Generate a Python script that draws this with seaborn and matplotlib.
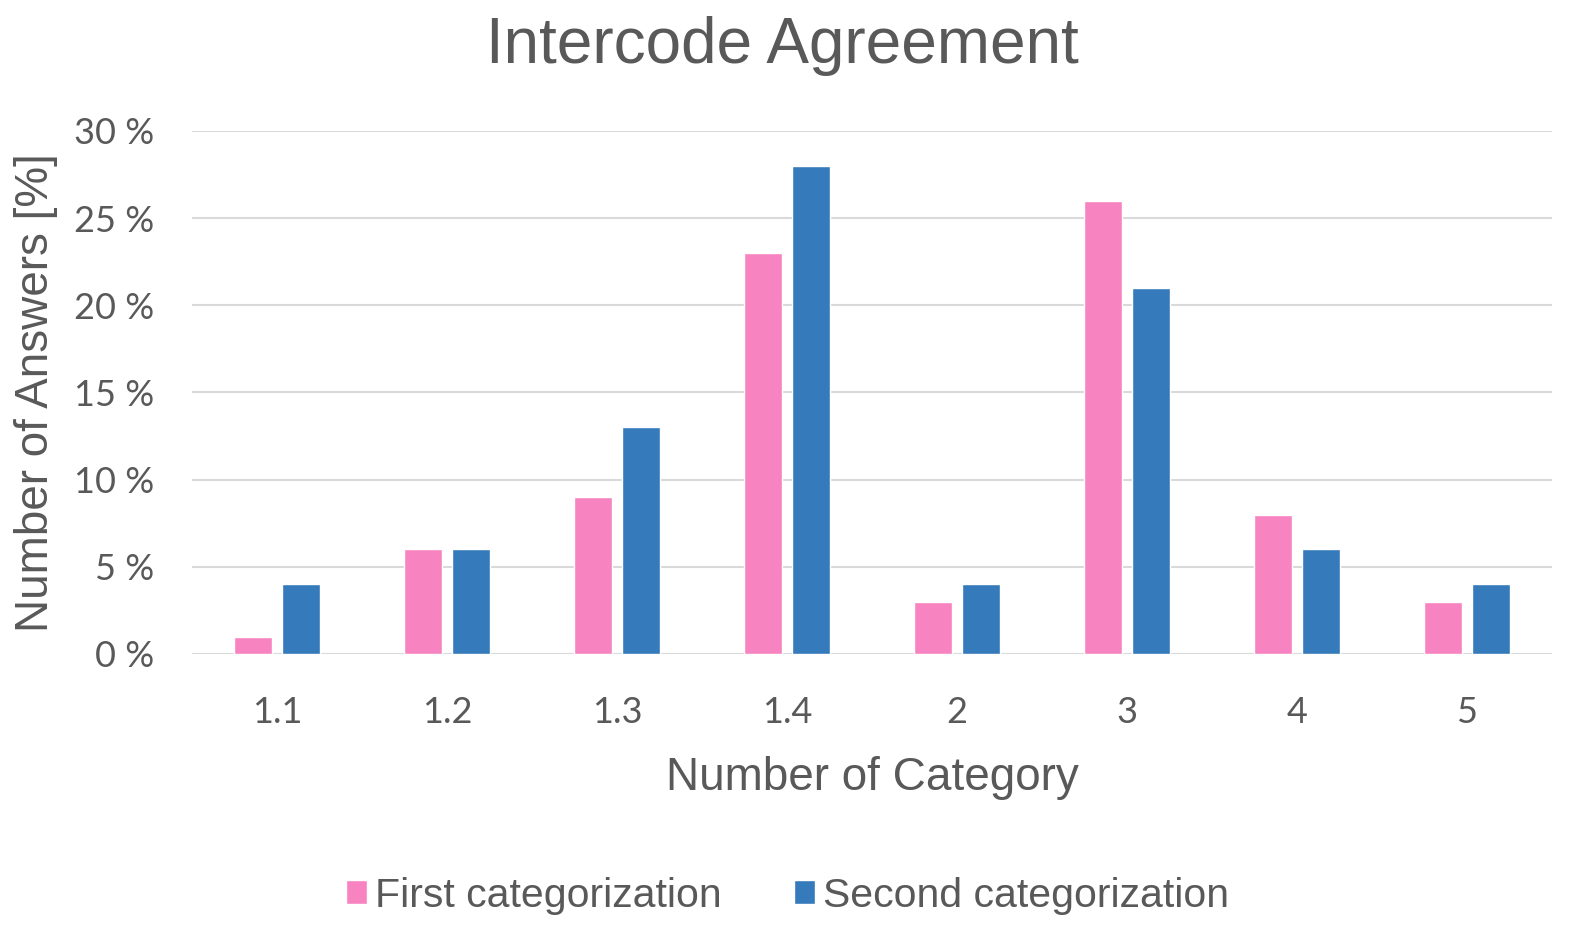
import matplotlib.pyplot as plt
import seaborn as sns
import pandas as pd
from matplotlib.ticker import FuncFormatter

categories = ["1.1", "1.2", "1.3", "1.4", "2", "3", "4", "5"]
first_cat = [1, 6, 9, 23, 3, 26, 8, 3]
second_cat = [4, 6, 13, 28, 4, 21, 6, 4]
series_names = ["First categorization", "Second categorization"]

df = pd.DataFrame({
    "category": categories * 2,
    "value": first_cat + second_cat,
    "series": [series_names[0]] * len(categories) + [series_names[1]] * len(categories),
})

sns.set_style("white")
plt.rcParams['font.family'] = ['Liberation Sans', 'DejaVu Sans']
grey = "#595959"

fig = plt.figure(figsize=(15.75, 9.3), dpi=100)
ax = fig.add_axes([0.1219, 0.2968, 0.8635, 0.5624])

sns.barplot(data=df, x="category", y="value", hue="series", order=categories,
            hue_order=series_names, palette=["#F783C0", "#357ABA"],
            saturation=1, width=0.565, gap=0.21, ax=ax, legend=True)

ax.set_xlim(-0.5, len(categories) - 0.5)
ax.set_ylim(0, 30)
ax.set_yticks(range(0, 31, 5))
ax.yaxis.set_major_formatter(FuncFormatter(lambda v, p: f"{int(v)} %"))
ax.grid(axis="y", color="#D9D9D9", linewidth=1.5)
ax.set_axisbelow(True)
for s in ax.spines.values():
    s.set_visible(False)
ax.tick_params(axis="both", length=0, labelsize=26, colors=grey)
ax.tick_params(axis="x", pad=30)
ax.tick_params(axis="y", pad=27)
for lab in ax.get_xticklabels() + ax.get_yticklabels():
    lab.set_family("Lato")

ax.set_xlabel("Number of Category", fontsize=33, color=grey, labelpad=20)
ax.set_ylabel("Number of Answers [%]", fontsize=33, color=grey, labelpad=12)
fig.suptitle("Intercode Agreement", fontsize=46, color=grey, x=0.497, y=0.983)

handles, labels = ax.get_legend_handles_labels()
ax.legend_.remove()
fig.legend(handles, labels, loc="center", bbox_to_anchor=(0.5, 0.037), ncol=2,
           frameon=False, fontsize=29.5, labelcolor=grey, handlelength=0.52,
           handleheight=0.52, handletextpad=0.2, columnspacing=1.75)

fig.savefig("out.png", dpi=100)
